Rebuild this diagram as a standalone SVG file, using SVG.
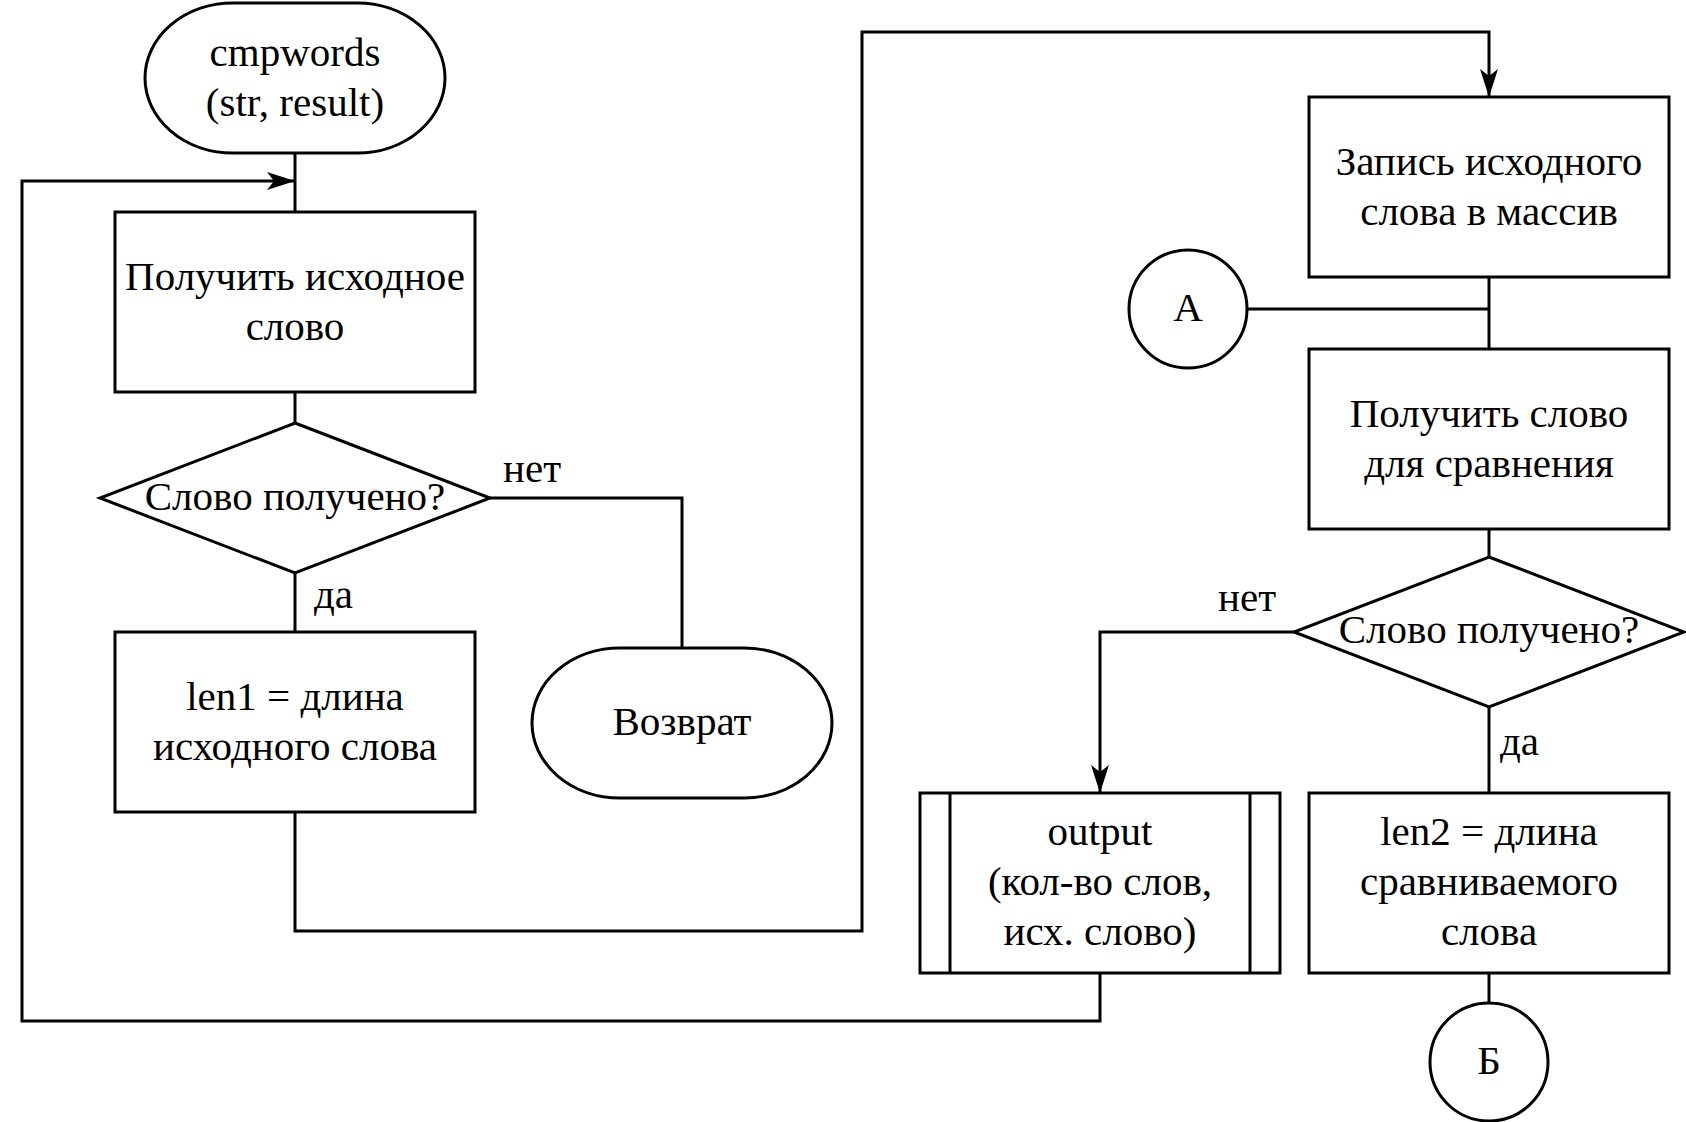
<svg xmlns="http://www.w3.org/2000/svg" width="1686" height="1122" viewBox="0 0 1686 1122">
<style>
.s{fill:#fff;stroke:#000;stroke-width:3}
.c{fill:none;stroke:#000;stroke-width:3}
text{font-family:"Liberation Serif","Times New Roman",serif;font-size:41px;fill:#000;text-anchor:middle}
.l{text-anchor:start}
</style>
<defs>
<marker id="ar" markerUnits="userSpaceOnUse" markerWidth="30" markerHeight="20" viewBox="0 -10 30 20" refX="28" refY="0" orient="auto">
<path d="M0,-9 L28,0 L0,9 L7,0 Z" fill="#000"/>
</marker>
</defs>
<rect width="1686" height="1122" fill="#fff"/>
<g id="connectors">
<path class="c" d="M295,153 V212"/>
<path class="c" d="M295,392 V423"/>
<path class="c" d="M490,498 H682 V648"/>
<path class="c" d="M295,573 V632"/>
<path class="c" d="M295,812 V931 H862 V32 H1489 V97" marker-end="url(#ar)"/>
<path class="c" d="M1489,277 V349"/>
<path class="c" d="M1247,309 H1489"/>
<path class="c" d="M1489,529 V557"/>
<path class="c" d="M1294,632 H1100 V793" marker-end="url(#ar)"/>
<path class="c" d="M1489,707 V793"/>
<path class="c" d="M1489,973 V1003"/>
<path class="c" d="M1100,973 V1021 H22 V181 H295" marker-end="url(#ar)"/>
<text class="l" x="503" y="482">нет</text>
<text class="l" x="314" y="608">да</text>
<text class="l" x="1218" y="611">нет</text>
<text class="l" x="1500" y="755">да</text>
</g>
<g id="start">
<rect class="s" x="145" y="3" width="300" height="150" rx="88" ry="75"/>
<text x="295" y="66">cmpwords</text>
<text x="295" y="116">(str, result)</text>
</g>
<g id="get-source">
<rect class="s" x="115" y="212" width="360" height="180"/>
<text x="295" y="290">Получить исходное</text>
<text x="295" y="340">слово</text>
</g>
<g id="decision1">
<polygon class="s" points="295,423 490,498 295,573 100,498"/>
<text x="295" y="510">Слово получено?</text>
</g>
<g id="len1">
<rect class="s" x="115" y="632" width="360" height="180"/>
<text x="295" y="710">len1 = длина</text>
<text x="295" y="760">исходного слова</text>
</g>
<g id="return">
<rect class="s" x="532" y="648" width="300" height="150" rx="88" ry="75"/>
<text x="682" y="735">Возврат</text>
</g>
<g id="store">
<rect class="s" x="1309" y="97" width="360" height="180"/>
<text x="1489" y="175">Запись исходного</text>
<text x="1489" y="225">слова в массив</text>
</g>
<g id="connA">
<circle class="s" cx="1188" cy="309" r="59"/>
<text x="1188" y="321">А</text>
</g>
<g id="get-compare">
<rect class="s" x="1309" y="349" width="360" height="180"/>
<text x="1489" y="427">Получить слово</text>
<text x="1489" y="477">для сравнения</text>
</g>
<g id="decision2">
<polygon class="s" points="1489,557 1684,632 1489,707 1294,632"/>
<text x="1489" y="643">Слово получено?</text>
</g>
<g id="output">
<rect class="s" x="920" y="793" width="360" height="180"/>
<path class="c" d="M950,793 V973 M1250,793 V973"/>
<text x="1100" y="845">output</text>
<text x="1100" y="895">(кол-во слов,</text>
<text x="1100" y="945">исх. слово)</text>
</g>
<g id="len2">
<rect class="s" x="1309" y="793" width="360" height="180"/>
<text x="1489" y="845">len2 = длина</text>
<text x="1489" y="895">сравниваемого</text>
<text x="1489" y="945">слова</text>
</g>
<g id="connB">
<circle class="s" cx="1489" cy="1062" r="59"/>
<text x="1489" y="1074">Б</text>
</g>
</svg>
